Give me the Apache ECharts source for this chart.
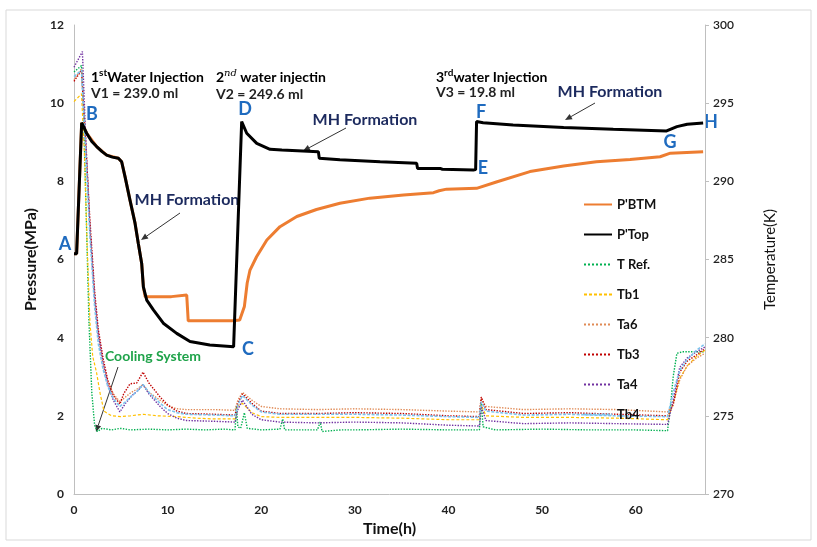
<!DOCTYPE html>
<html>
<head>
<meta charset="utf-8">
<script src="https://cdn.jsdelivr.net/npm/echarts@6/dist/echarts.min.js"></script>
<style>html,body{margin:0;padding:0;background:#fff}#c{width:817px;height:547px}</style>
</head>
<body>
<div id="c"></div>
<script>
// ---- data (time h, pressure MPa / temperature K) ----
const xTicks = [0, 10, 20, 30, 40, 50, 60];
const pTicks = [0, 2, 4, 6, 8, 10, 12];
const tTicks = [270, 275, 280, 285, 290, 295, 300];
const seriesNames = ["P'BTM", "P'Top", "T Ref.", "Tb1", "Ta6", "Tb3", "Ta4", "Tb4"];

const pTop = [[0,6.15],[0.28,6.15],[0.82,9.5],[1.35,9.23],[1.9,9.02],[2.42,8.89],[3.0,8.76],[3.49,8.67],[4.1,8.62],[4.74,8.59],[5.09,8.5],[5.45,8.12],[5.98,7.52],[6.52,6.93],[6.87,6.41],[7.23,5.9],[7.41,5.3],[7.77,4.96],[8.48,4.71],[9.54,4.37],[10.97,4.11],[12.39,3.9],[14.5,3.81],[17.05,3.77],[17.91,9.53],[18.45,9.23],[19.52,8.97],[20.94,8.82],[22.2,8.8],[22.3,8.76],[26.1,8.76],[26.2,8.59],[28.4,8.55],[32.7,8.5],[36.6,8.46],[36.7,8.33],[39.1,8.33],[39.2,8.36],[39.35,8.31],[42.66,8.29],[42.9,8.3],[43.0,9.53],[43.7,9.5],[46.9,9.44],[52.3,9.38],[57.6,9.33],[63.3,9.29],[64.4,9.4],[65.5,9.46],[67.2,9.49]];

const pBtm = [[0,6.15],[0.28,6.15],[0.82,9.5],[1.35,9.23],[2.42,8.89],[3.49,8.67],[4.74,8.59],[5.09,8.5],[5.45,8.12],[5.98,7.52],[6.52,6.93],[6.87,6.41],[7.23,5.9],[7.41,5.3],[7.6,5.05],[10.4,5.05],[10.6,5.09],[12.04,5.09],[12.2,4.43],[17.0,4.43],[17.7,4.45],[18.2,4.8],[18.5,5.4],[18.8,5.73],[19.5,6.07],[20.6,6.5],[22.0,6.84],[23.8,7.1],[25.9,7.28],[28.4,7.44],[31.6,7.57],[35.2,7.65],[38.4,7.71],[39.0,7.76],[39.8,7.8],[43.0,7.82],[45.2,7.99],[48.7,8.25],[52.3,8.39],[55.8,8.5],[59.4,8.56],[62.6,8.63],[63.7,8.72],[67.2,8.76]];

const tRef = [[0,297.0],[0.8,297.4],[1.0,295],[1.3,288],[1.6,281],[1.9,276.5],[2.2,274.4],[2.5,274.0],[3,274.2],[4,274.1],[5,274.2],[6,274.1],[8,274.15],[10,274.1],[12,274.15],[14,274.1],[16,274.15],[17.2,274.1],[17.35,275.6],[17.5,274.3],[17.8,274.2],[18.2,275.2],[18.5,274.2],[20,274.1],[22,274.15],[22.3,274.8],[22.5,274.1],[26,274.1],[26.3,274.6],[26.5,274.0],[28.5,274.1],[30,274.1],[35,274.15],[40,274.1],[43.3,274.1],[43.5,275.8],[43.7,274.3],[45,274.1],[50,274.15],[55,274.1],[60,274.1],[63.4,274.05],[63.7,275.5],[64.0,277.5],[64.4,279.0],[65,279.1],[67.4,279.1]];

const tb1 = [[0,295.1],[0.8,295.6],[1.1,292],[1.4,286],[1.7,281],[2.0,278.8],[2.4,277.8],[2.8,276.4],[3.2,275.3],[4,275.0],[5,274.95],[6,275.0],[7.4,275.1],[9,275.0],[11,274.95],[13,274.85],[15,274.8],[17.2,274.8],[17.4,275.6],[18,275.8],[19,275.2],[20,274.95],[22,274.9],[26,274.9],[30,274.9],[35,274.85],[40,274.75],[43.3,274.75],[43.5,275.7],[44,275.0],[48,274.9],[53,274.9],[58,274.85],[63.4,274.75],[64.0,275.8],[64.7,277.4],[65.5,278.2],[66.5,278.8],[67.4,279.2]];

const ta6 = [[0,296.5],[0.8,297.2],[1.2,293],[1.7,287],[2.2,282.5],[2.6,280],[3.1,278.3],[3.6,277.2],[4.2,276.4],[4.9,275.9],[5.5,276.2],[6,276.45],[6.7,276.7],[7.37,277.0],[8,276.5],[9.2,276.0],[10,275.65],[11,275.45],[12,275.4],[15,275.4],[17.2,275.35],[17.5,276.0],[18,276.5],[19,276.0],[20,275.6],[22,275.45],[26,275.4],[30,275.45],[35,275.4],[40,275.3],[43.3,275.25],[43.5,276.1],[44,275.6],[48,275.4],[53,275.45],[58,275.4],[63.4,275.25],[64.0,275.8],[64.7,277.3],[65.5,278.2],[66.5,278.7],[67.4,279.0]];

const tb3 = [[0,296.4],[0.8,297.1],[1.2,293],[1.7,287.5],[2.2,283],[2.6,280.5],[3.1,278.7],[3.6,277.3],[4.2,276.3],[4.9,275.75],[5.3,276.4],[5.98,277.05],[6.7,277.1],[7.37,277.8],[8,277.1],[9.2,276.2],[10,275.7],[11,275.3],[12,275.15],[15,275.1],[17.2,275.05],[17.5,275.8],[18,276.4],[19,275.8],[20,275.3],[22,275.15],[26,275.15],[30,275.2],[35,275.15],[40,275.0],[43.3,274.95],[43.5,276.2],[44,275.4],[48,275.15],[53,275.2],[58,275.1],[63.4,275.0],[64.0,275.7],[64.7,277.8],[65.5,278.5],[66.5,278.9],[67.4,279.3]];

const ta4 = [[0,297.3],[0.9,298.3],[1.2,293.5],[1.7,287],[2.2,282.6],[2.6,280.2],[3.1,278.4],[3.6,277.0],[4.2,276.0],[4.9,275.25],[5.5,275.8],[6.2,276.3],[6.8,276.6],[7.37,277.0],[8,276.4],[9.2,275.6],[10,275.15],[11,274.85],[12,274.7],[15,274.65],[17.2,274.6],[17.5,275.4],[18,276.0],[19,275.1],[20,274.75],[22,274.6],[26,274.55],[30,274.6],[35,274.55],[40,274.4],[43.3,274.35],[43.5,275.6],[44,274.7],[48,274.5],[53,274.55],[58,274.5],[63.4,274.45],[64.0,276.0],[64.7,278.1],[65.5,278.7],[66.5,279.1],[67.4,279.4]];

const tb4 = [[0,296.7],[0.8,297.1],[1.2,292.5],[1.7,286.5],[2.2,282],[2.6,279.6],[3.1,278.0],[3.6,276.9],[4.2,276.1],[4.9,275.6],[5.5,275.9],[6.2,276.3],[6.8,276.6],[7.37,277.0],[8,276.5],[9.2,275.8],[10,275.4],[11,275.2],[12,275.1],[15,275.05],[17.2,275.0],[17.5,275.7],[18,276.3],[19,275.7],[20,275.25],[22,275.1],[26,275.1],[30,275.1],[35,275.05],[40,274.95],[43.3,274.9],[43.5,275.9],[44,275.3],[48,275.05],[53,275.1],[58,275.0],[63.4,274.95],[64.0,276.5],[64.7,277.9],[65.5,278.6],[66.5,279.2],[67.4,279.6]];

// ---- chart ----
const FONT = 'Lato, "Open Sans", sans-serif';
const chart = echarts.init(document.getElementById('c'), null, {renderer: 'canvas'});

function tempSeries(name, data, color, type, width) {
  return {name, type: 'line', yAxisIndex: 1, data, symbol: 'none', showSymbol: false,
    lineStyle: {color, width: width || 1.2, type}, itemStyle: {color}};
}

function arrow(x1, y1, x2, y2, color) {
  const a = Math.atan2(y2 - y1, x2 - x1), L = 7, W = 3;
  const bx = x2 - L * Math.cos(a), by = y2 - L * Math.sin(a);
  return [
    {type: 'line', shape: {x1, y1, x2: bx, y2: by}, style: {stroke: color, lineWidth: 1}},
    {type: 'polygon', shape: {points: [[x2, y2], [bx + W * Math.sin(a), by - W * Math.cos(a)], [bx - W * Math.sin(a), by + W * Math.cos(a)]]}, style: {fill: color}}
  ];
}
function txt(x, y, text, opt) {
  return {type: 'text', x, y, style: Object.assign({text, font: 'bold 13px ' + FONT, fill: '#222', textAlign: 'left', textVerticalAlign: 'middle'}, opt || {})};
}
const blue = '#1F6BBF', navy = '#1C2A5E', green = '#1FA34A';
const rich = {
  n: {fontSize: 14, fontWeight: 'bold', fontFamily: FONT, color: '#222'},
  s: {fontSize: 10, fontWeight: 'bold', fontFamily: FONT, color: '#222', verticalAlign: 'top', padding: [0, 0, 8, 0]},
  si: {fontSize: 10, fontStyle: 'italic', fontFamily: 'DejaVu Serif, serif', color: '#222', verticalAlign: 'top', padding: [0, 0, 8, 0]}
};
function richTxt(x, y, text) {
  return {type: 'text', x, y, style: {text, rich, textAlign: 'left', textVerticalAlign: 'middle'}};
}
const letterFont = 'bold 18px ' + FONT;
const vFont = 'bold 14px ' + FONT;

const graphics = [
  {type: 'rect', shape: {x: 6, y: 10, width: 805, height: 530}, style: {fill: 'none', stroke: '#D9D9D9', lineWidth: 1}, z: -10},
  richTxt(91, 77, '{n|1}{s|st}{n|Water Injection}'),
  txt(91, 93, 'V1 = 239.0 ml', {font: vFont}),
  richTxt(216, 77, '{n|2}{si|nd}{n| water injectin}'),
  txt(216, 94, 'V2 = 249.6 ml', {font: vFont}),
  richTxt(436, 77, '{n|3}{s|rd}{n|water Injection}'),
  txt(436, 92, 'V3 = 19.8 ml', {font: vFont}),
  txt(65, 244, 'A', {font: letterFont, fill: blue, textAlign: 'center'}),
  txt(92, 114, 'B', {font: letterFont, fill: blue, textAlign: 'center'}),
  txt(248, 349, 'C', {font: letterFont, fill: blue, textAlign: 'center'}),
  txt(245, 109, 'D', {font: letterFont, fill: blue, textAlign: 'center'}),
  txt(483, 168, 'E', {font: letterFont, fill: blue, textAlign: 'center'}),
  txt(481, 112, 'F', {font: letterFont, fill: blue, textAlign: 'center'}),
  txt(670, 142, 'G', {font: letterFont, fill: blue, textAlign: 'center'}),
  txt(711, 122, 'H', {font: letterFont, fill: blue, textAlign: 'center'}),
  txt(187, 200, 'MH Formation', {font: 'bold 16px ' + FONT, fill: navy, textAlign: 'center'}),
  txt(365, 120, 'MH Formation', {font: 'bold 16px ' + FONT, fill: navy, textAlign: 'center'}),
  txt(610, 92, 'MH Formation', {font: 'bold 16px ' + FONT, fill: navy, textAlign: 'center'}),
  txt(153, 356, 'Cooling System', {font: 'bold 14px ' + FONT, fill: green, textAlign: 'center'})
].concat(
  arrow(180, 213, 141, 240, '#333'),
  arrow(346, 128, 303, 151, '#333'),
  arrow(595, 103, 565, 120, '#333'),
  arrow(118, 367, 96, 432, '#333')
);

const option = {
  animation: false,
  backgroundColor: '#fff',
  textStyle: {fontFamily: FONT},
  grid: {left: 74, right: 112, top: 25, bottom: 53},
  legend: {
    orient: 'vertical', left: 578, top: 193, itemWidth: 28, itemHeight: 14, itemGap: 17,
    data: seriesNames,
    itemStyle: {opacity: 0},
    textStyle: {fontSize: 13, fontWeight: 'bold', color: '#111', fontFamily: FONT}
  },
  xAxis: {
    type: 'value', min: xTicks[0], max: 67.4, interval: 10,
    name: 'Time(h)', nameLocation: 'middle', nameGap: 27,
    nameTextStyle: {fontSize: 16, fontWeight: 'bold', color: '#111', fontFamily: FONT},
    axisLine: {show: true, lineStyle: {color: '#BFBFBF'}},
    axisTick: {show: false}, splitLine: {show: false},
    axisLabel: {fontSize: 12, fontWeight: 'bold', color: '#222', margin: 10, showMaxLabel: false,
      formatter: v => xTicks.includes(v) ? String(v) : ''}
  },
  yAxis: [{
    type: 'value', position: 'left', min: pTicks[0], max: pTicks[pTicks.length - 1], interval: 2,
    name: 'Pressure(MPa)', nameLocation: 'middle', nameGap: 32, nameRotate: 90,
    nameTextStyle: {fontSize: 16, fontWeight: 'bold', color: '#111', fontFamily: FONT},
    axisLine: {show: true, lineStyle: {color: '#BFBFBF'}},
    axisTick: {show: false}, splitLine: {show: false},
    axisLabel: {fontSize: 12, fontWeight: 'bold', color: '#222', margin: 10}
  }, {
    type: 'value', position: 'right', min: tTicks[0], max: tTicks[tTicks.length - 1], interval: 5,
    name: 'Temperature(K)', nameLocation: 'middle', nameGap: 58, nameRotate: 90,
    nameTextStyle: {fontSize: 15, color: '#111', fontFamily: FONT},
    axisLine: {show: true, lineStyle: {color: '#BFBFBF'}},
    axisTick: {show: true, length: 4, lineStyle: {color: '#BFBFBF'}}, splitLine: {show: false},
    axisLabel: {fontSize: 12, color: '#222', margin: 8, fontWeight: 600}
  }],
  series: [
    {name: seriesNames[0], type: 'line', data: pBtm, symbol: 'none', showSymbol: false, lineStyle: {color: '#ED7D31', width: 3}, itemStyle: {color: '#ED7D31'}, z: 3},
    {name: seriesNames[1], type: 'line', data: pTop, symbol: 'none', showSymbol: false, lineStyle: {color: '#000', width: 3}, itemStyle: {color: '#000'}, z: 4},
    tempSeries(seriesNames[2], tRef, '#00B050', 'dotted', 1.4),
    tempSeries(seriesNames[3], tb1, '#FFC000', [3, 2], 1.2),
    tempSeries(seriesNames[4], ta6, '#E08A55', 'dotted', 1.4),
    tempSeries(seriesNames[5], tb3, '#C00000', 'dotted', 1.4),
    tempSeries(seriesNames[6], ta4, '#7030A0', 'dotted', 1.4),
    tempSeries(seriesNames[7], tb4, '#7CC4EE', [3, 1.5], 1.6)
  ],
  graphic: graphics
};
chart.setOption(option);
</script>
</body>
</html>
